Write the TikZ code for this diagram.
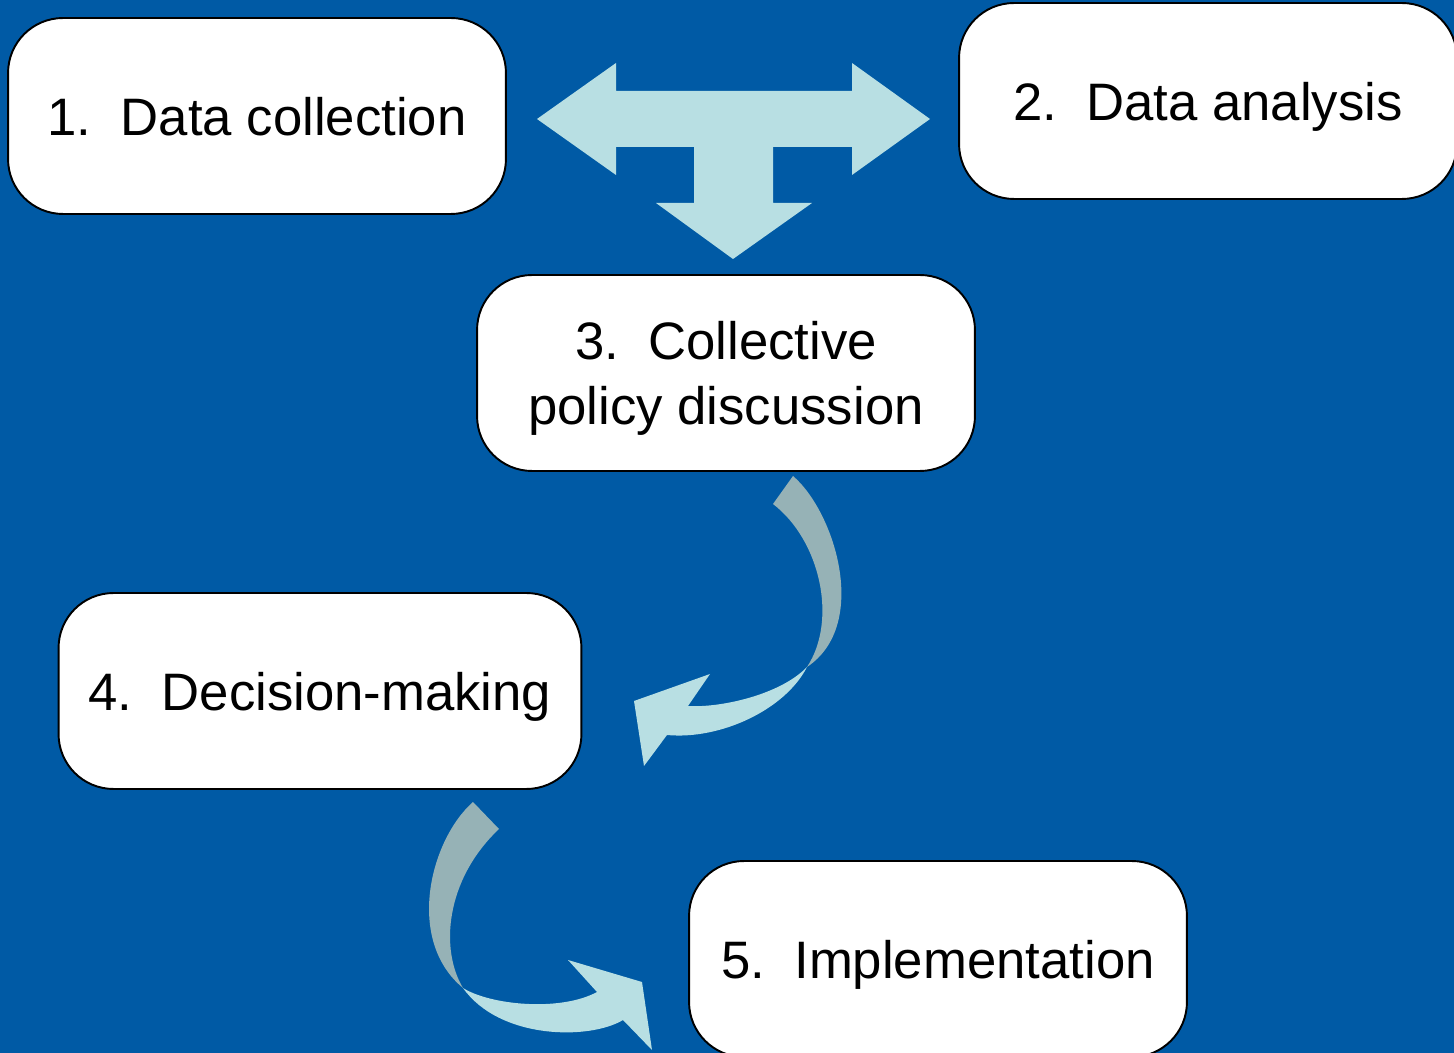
\documentclass[tikz,border=0pt]{standalone}
\usepackage{fontspec}
\setmainfont{Liberation Sans}
\usetikzlibrary{positioning}
\definecolor{bgblue}{HTML}{005AA5}
\definecolor{paleband}{HTML}{B8DFE3}
\definecolor{greyband}{HTML}{96B2B6}

\begin{document}
\begin{tikzpicture}[
	x = 0.02cm, y = -0.02cm,
	stage/.style = {draw=black, fill=white, line width=1.1pt,
		rounded corners=1.1cm, inner sep=0pt, text depth=0pt,
		minimum width=9.96cm, minimum height=3.92cm,
		align=center, font=\fontsize{30}{37}\selectfont},
	pale/.style = {fill=paleband},
	grey/.style = {fill=greyband},
	]
	% background
	\fill[bgblue] (0,0) rectangle (1454,1053);
	\useasboundingbox (0,0) rectangle (1454,1053);
	% three-way arrow
	\fill[pale] (537,119) -- (616,63) -- (616,91) -- (852,91) -- (852,63)
		-- (930,119) -- (852,175) -- (852,147) -- (773,147) -- (773,203)
		-- (812,203) -- (733,259) -- (656,203) -- (694,203) -- (694,147)
		-- (616,147) -- (616,175) -- cycle;
	% twisted arrow 3 -> 4
	\fill[grey] (793,476) .. controls (835,512) and (870,625) .. (807,667)
		.. controls (838,620) and (820,540) .. (773,504) -- cycle;
	\fill[pale] (807,667) .. controls (780,695) and (720,708) .. (688,706)
		-- (710,674) -- (634,701) -- (644,766) -- (667,735)
		.. controls (720,740) and (785,710) .. (807,667) -- cycle;
	% twisted arrow 4 -> 5
	\fill[grey] (473,802) .. controls (430,840) and (405,940) .. (463,988)
		.. controls (440,950) and (445,880) .. (499,829) -- cycle;
	\fill[pale] (463,988) .. controls (490,1005) and (560,1012) .. (597,992)
		-- (568,960) -- (642,982) -- (652,1050) -- (623,1020)
		.. controls (590,1040) and (500,1040) .. (463,988) -- cycle;
	% stages
	\node[stage] (collect) at (257,116) {1.~~Data collection};
	\node[stage] (analyse) at (1208,101) {2.~~Data analysis};
	\node[stage] (discuss) at (726,373) {3.~~Collective\\policy discussion};
	\node[stage, minimum width=10.46cm] (decide) at (320,691) {4.~~Decision-making};
	\node[stage] (implement) at (938,959) {5.~~Implementation};
\end{tikzpicture}
\end{document}
